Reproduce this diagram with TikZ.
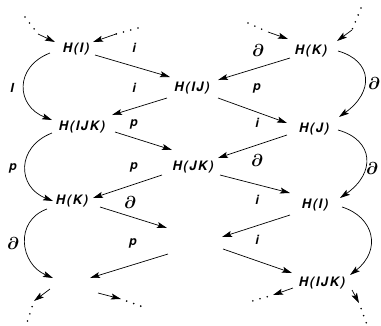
\documentclass[tikz,border=0pt]{standalone}
\usepackage{amsmath,amssymb}
\usepackage{fontspec}
\newfontfamily\hfont[LetterSpace=12]{TeX Gyre Heros}
\usetikzlibrary{arrows.meta}

\begin{document}
\begin{tikzpicture}[x=1pt,y=-1pt,>={Stealth[length=10pt,width=6pt,inset=2pt]},
	grp/.style={font=\hfont\bfseries\itshape\fontsize{13}{15}\selectfont,inner sep=0pt},
	lbl/.style={font=\hfont\bfseries\itshape\fontsize{12.5}{14}\selectfont,inner sep=0pt},
	bd/.style={font=\fontsize{19}{21}\selectfont,inner sep=0pt},
	map/.style={->,line width=0.7pt},
	dotline/.style={line width=1.8pt,line cap=round,dash pattern=on 0pt off 7.5pt},
	dotafter/.style={dotline,dash phase=1.5pt}]
	\useasboundingbox (0,0) rectangle (381,325);
	
	\node[grp] (hIa) at (76,49) {H(I)};
	\node[grp] (hIJKa) at (82,127) {H(IJK)};
	\node[grp] (hKa) at (72,201) {H(K)};
	\coordinate (hBa) at (72,284);
	
	\node[grp] (hIJ) at (192,88) {H(IJ)};
	\node[grp] (hJK) at (193,167) {H(JK)};
	\coordinate (hBm) at (195,242);
	
	\node[grp] (hKb) at (311,51) {H(K)};
	\node[grp] (hJb) at (314,129) {H(J)};
	\node[grp] (hIb) at (315,205) {H(I)};
	\node[grp] (hIJKb) at (322,283) {H(IJK)};
	
	\coordinate (tlA) at (25,17); \coordinate (tlB) at (38,34);
	\coordinate (tmA) at (138,28); \coordinate (tmB) at (116,34);
	\coordinate (trA) at (248,23); \coordinate (trB) at (268,32);
	\coordinate (tzA) at (361,8); \coordinate (tzB) at (352,30);
	\coordinate (blA) at (34,301); \coordinate (blB) at (26.5,324);
	\coordinate (bmA) at (121,299); \coordinate (bmB) at (146,308);
	\coordinate (brA) at (273,295); \coordinate (brB) at (249,302);
	\coordinate (bzA) at (359,303); \coordinate (bzB) at (367,325);
	
	\draw[dotline] (tlA) -- (tlB); \draw[map] (tlB) -- ([shift={(-21,-7)}]hIa.center);
	\draw[dotline] (tmA) -- (tmB); \draw[map] (tmB) -- ([shift={(17,-7)}]hIa.center);
	\draw[dotline] (trA) -- (trB); \draw[map] (trB) -- ([shift={(-23,-12)}]hKb.center);
	\draw[dotline] (tzA) -- (tzB); \draw[map] (tzB) -- ([shift={(26,-10)}]hKb.center);
	
	\draw[map] ([shift={(19,6)}]hIa.center) -- ([shift={(-22,-11)}]hIJ.center);
	\draw[map] ([shift={(-25,10)}]hIJ.center) -- ([shift={(30,-12)}]hIJKa.center);
	\draw[map] ([shift={(33,5)}]hIJKa.center) -- ([shift={(-21,-17)}]hJK.center);
	\draw[map] ([shift={(-31,8)}]hJK.center) -- ([shift={(21,-3)}]hKa.center);
	\draw[map] ([shift={(28,6)}]hKa.center) -- ([shift={(-28,-14)}]hBm);
	\draw[map] ([shift={(-27,12)}]hBm) -- ([shift={(18,-6)}]hBa);
	
	\draw[map] ([shift={(-21,7)}]hKb.center) -- ([shift={(26,-8)}]hIJ.center);
	\draw[map] ([shift={(26,10)}]hIJ.center) -- ([shift={(-27,-6)}]hJb.center);
	\draw[map] ([shift={(-27,6)}]hJb.center) -- ([shift={(25,-9)}]hJK.center);
	\draw[map] ([shift={(27,8)}]hJK.center) -- ([shift={(-25,-12)}]hIb.center);
	\draw[map] ([shift={(-25,10)}]hIb.center) -- ([shift={(27,-5)}]hBm);
	\draw[map] ([shift={(28,7)}]hBm) -- ([shift={(-30,-10)}]hIJKb.center);
	
	\draw[map] ([shift={(-26,4)}]hIa.center) .. controls +(-36,14) and +(-36,-14) .. ([shift={(-30,-7)}]hIJKa.center);
	\draw[map] ([shift={(-30,6)}]hIJKa.center) .. controls +(-36,14) and +(-36,-14) .. ([shift={(-19,0)}]hKa.center);
	\draw[map] ([shift={(-25,8)}]hKa.center) .. controls +(-33,12) and +(-33,-14) .. ([shift={(-19,-6)}]hBa);
	\draw[map] ([shift={(27,0)}]hKb.center) .. controls +(35,10) and +(35,-25) .. ([shift={(25,-12)}]hJb.center);
	\draw[map] ([shift={(24,1)}]hJb.center) .. controls +(36,10) and +(36,-25) .. ([shift={(25,-7)}]hIb.center);
	\draw[map] ([shift={(27,2)}]hIb.center) .. controls +(32,10) and +(32,-25) .. ([shift={(28,-8)}]hIJKb.center);
	
	\draw[map] ([shift={(-22,5)}]hBa) -- (blA); \draw[dotafter] (blA) -- (blB);
	\draw[map] ([shift={(26,9)}]hBa) -- (bmA); \draw[dotafter] (bmA) -- (bmB);
	\draw[map] ([shift={(-29,5)}]hIJKb.center) -- (brA); \draw[dotafter] (brA) -- (brB);
	\draw[map] ([shift={(30,7)}]hIJKb.center) -- (bzA); \draw[dotafter] (bzA) -- (bzB);
	
	\node[lbl] (li1) at (134,48) {i};
	\node[lbl] (li2) at (134,88) {i};
	\node[lbl] (lp1) at (134,124) {p};
	\node[lbl] (lp2) at (134,167) {p};
	\node[bd] (ld1) at (130,202) {$\boldsymbol{\partial}$};
	\node[lbl] (lp3) at (133,243) {p};
	
	\node[bd] (rd1) at (258,50) {$\boldsymbol{\partial}$};
	\node[lbl] (rp1) at (257,88) {p};
	\node[lbl] (ri1) at (257,123) {i};
	\node[bd] (rd2) at (257,160) {$\boldsymbol{\partial}$};
	\node[lbl] (ri2) at (257,200) {i};
	\node[lbl] (ri3) at (257,240) {i};
	
	\node[lbl] (oI) at (12,88) {I};
	\node[lbl] (op) at (13,168) {p};
	\node[bd] (od1) at (13,243) {$\boldsymbol{\partial}$};
	\node[bd] (od2) at (374,83) {$\boldsymbol{\partial}$};
	\node[bd] (od3) at (372,168) {$\boldsymbol{\partial}$};
\end{tikzpicture}
\end{document}
